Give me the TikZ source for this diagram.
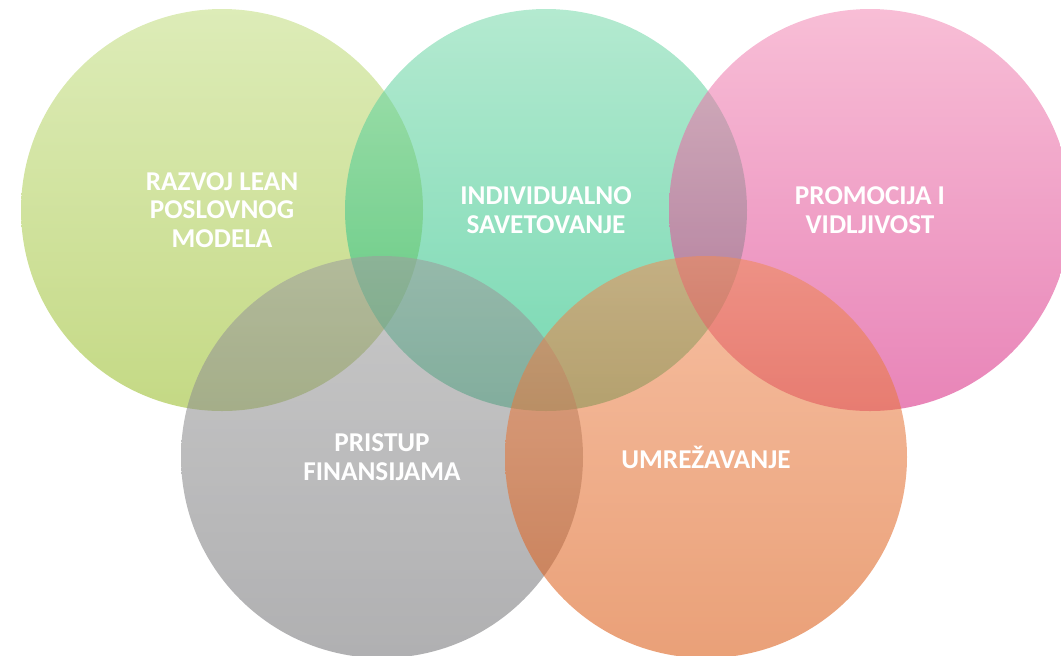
\documentclass[tikz,border=0pt]{standalone}
\usepackage{fontspec}
\setmainfont{Carlito}

\definecolor{greentop}{RGB}{194,221,128}
\definecolor{greenbot}{RGB}{150,187,36}
\definecolor{tealtop}{RGB}{121,217,171}
\definecolor{tealbot}{RGB}{10,185,117}
\definecolor{pinktop}{RGB}{242,139,182}
\definecolor{pinkbot}{RGB}{214,36,128}
\definecolor{graytop}{RGB}{157,157,157}
\definecolor{graybot}{RGB}{114,114,117}
\definecolor{orangetop}{RGB}{239,139,86}
\definecolor{orangebot}{RGB}{217,86,14}

\tikzset{
	bubble/.style={circle, minimum size=201pt, inner sep=0pt,
		fill opacity=0.56, text opacity=1, text=white, align=center,
		font=\bfseries\fontsize{13.6}{14.4}\selectfont},
}

\begin{document}
\begin{tikzpicture}[x=0.5pt,y=-0.5pt]
	\useasboundingbox (0,0) rectangle (1061,655);
	
	\node[bubble, top color=greentop, bottom color=greenbot] (lean) at (222,210) {RAZVOJ LEAN\\POSLOVNOG\\MODELA};
	\node[bubble, top color=tealtop, bottom color=tealbot] (savet) at (546,210) {INDIVIDUALNO\\SAVETOVANJE};
	\node[bubble, top color=pinktop, bottom color=pinkbot] (promo) at (870,210) {PROMOCIJA I\\VIDLJIVOST};
	
	\node[bubble, top color=graytop, bottom color=graybot] (fin) at (382,457) {PRISTUP\\FINANSIJAMA};
	\node[bubble, top color=orangetop, bottom color=orangebot] (mreza) at (706,457) {UMREŽAVANJE};
\end{tikzpicture}
\end{document}
